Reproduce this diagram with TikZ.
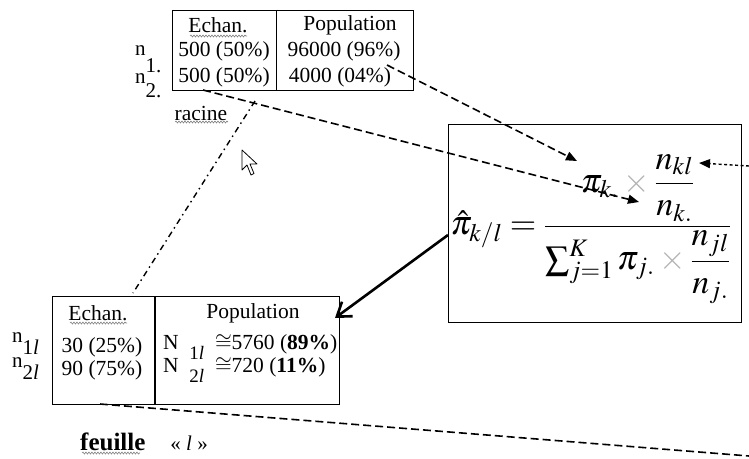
\documentclass[tikz,border=0pt]{standalone}
\usepackage{amsmath}
\usepackage{mathptmx}
\usepackage{fontspec}
\setmainfont{Liberation Serif}
\usetikzlibrary{arrows.meta,positioning,decorations.pathmorphing}

\newcommand{\fois}{\mathbin{\textcolor{gray!60}{\times}}}

\tikzset{
  cadre/.style={draw, line width=1pt, inner sep=0pt},
  cellule/.style={inner sep=0pt, font=\fontsize{21.5}{24}\selectfont},
  etiq/.style={inner sep=0pt, font=\fontsize{21}{22}\selectfont},
  tirets/.style={line width=1.6pt, dash pattern=on 8pt off 4pt},
  fleche/.style={-{Triangle[length=11pt,width=9pt]}},
  souligne/.style={gray, line width=0.6pt, decorate,
    decoration={snake, amplitude=1pt, segment length=3pt}},
}

\begin{document}
\begin{tikzpicture}[x=1pt, y=-1pt]
  \useasboundingbox (0,0) rectangle (749,458);

  % tableau racine
  \node[cadre, anchor=north west, minimum width=241pt, minimum height=80pt] (racineTab) at (172,10) {};
  \coordinate (racineSep) at (276,10);
  \draw[line width=1pt] (racineSep) -- ++(0,80);
  \node[cellule] (rEch) at (218,25) {Echan.};
  \node[cellule] (rPop) at (350,25) {Population};
  \node[cellule] (rE1) at (224,51) {500 (50\%)};
  \node[cellule] (rP1) at (344,51) {96000 (96\%)};
  \node[cellule] (rE2) at (224,77) {500 (50\%)};
  \node[cellule] (rP2) at (340,77) {4000 (04\%)};
  \node[etiq, anchor=base west] (rN1) at (135,55) {n\raisebox{-17pt}{1.}};
  \node[etiq, anchor=base west] (rN2) at (135,83) {n\raisebox{-14pt}{2.}};
  \node[cellule] (racine) at (201,113) {racine};

  % tableau feuille
  \node[cadre, anchor=north west, minimum width=287pt, minimum height=108pt] (feuilleTab) at (52,296) {};
  \coordinate (feuilleSep) at (155,296);
  \draw[line width=1.6pt] (feuilleSep) -- ++(0,108);
  \node[cellule] (fEch) at (98,313) {Echan.};
  \node[cellule] (fPop) at (253,313) {Population};
  \node[cellule] (fE1) at (102,347) {30 (25\%)};
  \node[cellule] (fE2) at (102,370) {90 (75\%)};
  \node[cellule, anchor=west] (fP1) at (163,347)
    {N\enspace\raisebox{-10pt}{\fontsize{19}{19}\selectfont 1\textit{l}}\enspace$\cong$5760 (\textbf{89\%})};
  \node[cellule, anchor=west] (fP2) at (163,370)
    {N\enspace\raisebox{-10pt}{\fontsize{19}{19}\selectfont 2\textit{l}}\enspace$\cong$720 (\textbf{11\%})};
  \node[etiq, anchor=base west] (fN1) at (12,342) {n\raisebox{-12pt}{1\textit{l}}};
  \node[etiq, anchor=base west] (fN2) at (12,367) {n\raisebox{-12pt}{2\textit{l}}};
  \node[inner sep=0pt, anchor=west, font=\fontsize{25}{28}\selectfont] (feuille) at (80,442)
    {\textbf{feuille}\quad{\fontsize{21}{24}\selectfont « \textit{l} »}};

  % formule
  \node[cadre, minimum width=293pt, minimum height=198pt] (cadreFormule) at (594.5,223) {};
  \node[inner sep=0pt, font=\fontsize{34}{40}\selectfont] (formule) at (591,229)
    {$\displaystyle \hat{\pi}_{k/l} = \frac{\pi_{k.}\fois\dfrac{n_{kl}}{n_{k.}}}
      {\sum\nolimits_{j=1}^{K}\pi_{j.}\fois\dfrac{n_{jl}}{n_{j.}}}$};

  % soulignements
  \draw[souligne] (190,36) -- (247,36);
  \draw[souligne] (175,122) -- (228,122);
  \draw[souligne] (70,323) -- (127,323);
  \draw[souligne] (82,453) -- (140,453);

  % liaisons
  \coordinate (a1s) at (387,65);  \coordinate (a1e) at (577,161);
  \coordinate (a2s) at (203,90);  \coordinate (a2e) at (639,202);
  \coordinate (a3s) at (749,166); \coordinate (a3e) at (699,163);
  \coordinate (b1) at (255,101);  \coordinate (b2) at (133,293);
  \coordinate (c1) at (448,235);  \coordinate (c2) at (335,318);
  \coordinate (d1) at (100,404);  \coordinate (d2) at (749,456);
  \draw[tirets, fleche] (a1s) -- (a1e);
  \draw[tirets, fleche] (a2s) -- (a2e);
  \draw[line width=1.4pt, dash pattern=on 3pt off 2.5pt, fleche] (a3s) -- (a3e);
  \draw[line width=1.4pt, dash pattern=on 6pt off 4pt on 1.5pt off 4pt] (b1) -- (b2);
  \draw[line width=2.6pt, -{Straight Barb[length=13pt,width=18pt]}] (c1) -- (c2);
  \draw[tirets] (d1) -- (d2);

  % curseur
  \draw[fill=white, line width=0.8pt, line join=round]
    (242,150) -- (242,170) -- (247,165) -- (251,175) -- (254,173.5) -- (250,164) -- (257,164) -- cycle;
\end{tikzpicture}
\end{document}
